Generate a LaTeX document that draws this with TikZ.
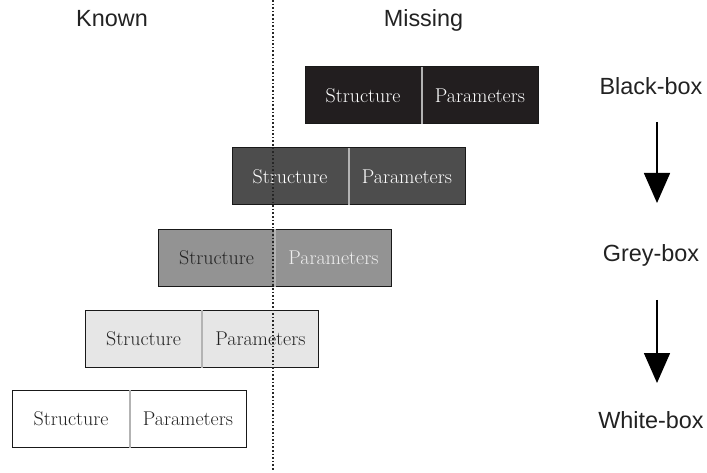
\documentclass[tikz,border=0pt]{standalone}
\usepackage{fontspec}
\newfontfamily\labelfont{Liberation Sans}
\usetikzlibrary{arrows.meta}

\definecolor{boxblack}{HTML}{221E1F}
\definecolor{boxdark}{HTML}{4D4D4D}
\definecolor{boxmid}{HTML}{939393}
\definecolor{boxlight}{HTML}{E6E6E6}
\definecolor{divgrey}{HTML}{B3B3B3}
\definecolor{inkdark}{HTML}{222222}
\definecolor{inklight}{HTML}{EEEEEE}

\tikzset{
  outerbox/.style={draw=black!90, line width=1bp, minimum width=233bp, minimum height=57bp, inner sep=0pt},
  half/.style={minimum width=116.5bp, minimum height=57bp, inner sep=0pt,
    font=\fontsize{20}{24}\selectfont},
  divider/.style={divgrey, line width=2bp},
  sidelabel/.style={font=\labelfont\fontsize{23.5}{27}\selectfont, text=inkdark, anchor=base, inner sep=0pt},
  stagearrow/.style={line width=1.6bp, -{Triangle[length=30bp, width=26bp]}},
  splitline/.style={line width=2bp, dash pattern=on 1.6bp off 2bp, black!85}
}

\begin{document}
\begin{tikzpicture}[x=1bp, y=-1bp]
  \useasboundingbox (0,0) rectangle (707,473);

  % known / missing boundary
  \coordinate (top) at (273,0);
  \coordinate (bot) at (273,471);

  % column headings
  \node[sidelabel] (known) at (112,27) {Known};
  \node[sidelabel] (missing) at (423.5,27) {Missing};

  % black box
  \node[outerbox, fill=boxblack] (b1) at (421.5,95.5) {};
  \node[half, anchor=east, text=white] (s1) at (b1.center) {Structure};
  \node[half, anchor=west, text=white] (p1) at (b1.center) {Parameters};
  \draw[divider] (s1.north east) -- (s1.south east);

  % dark grey box
  \node[outerbox, fill=boxdark] (b2) at (348.5,176.5) {};
  \node[half, anchor=east, text=white] (s2) at (b2.center) {Structure};
  \node[half, anchor=west, text=white] (p2) at (b2.center) {Parameters};
  \draw[divider] (s2.north east) -- (s2.south east);

  % grey box
  \node[outerbox, fill=boxmid] (b3) at (275,258) {};
  \node[half, anchor=east, text=inkdark] (s3) at (b3.center) {Structure};
  \node[half, anchor=west, text=inklight] (p3) at (b3.center) {Parameters};
  \draw[divider] (s3.north east) -- (s3.south east);

  % light grey box
  \node[outerbox, fill=boxlight] (b4) at (202,339) {};
  \node[half, anchor=east, text=inkdark] (s4) at (b4.center) {Structure};
  \node[half, anchor=west, text=inkdark] (p4) at (b4.center) {Parameters};
  \draw[divider] (s4.north east) -- (s4.south east);

  % white box
  \node[outerbox, fill=white] (b5) at (129.5,419) {};
  \node[half, anchor=east, text=inkdark] (s5) at (b5.center) {Structure};
  \node[half, anchor=west, text=inkdark] (p5) at (b5.center) {Parameters};
  \draw[divider] (s5.north east) -- (s5.south east);

  % dotted boundary, on top of the boxes it crosses
  \draw[splitline] (top) -- (bot);

  % stage labels and arrows
  \node[sidelabel] (black) at (651,95) {Black-box};
  \node[sidelabel] (grey) at (651,262) {Grey-box};
  \node[sidelabel] (white) at (651,428) {White-box};
  \coordinate (a1s) at (657,122);
  \coordinate (a1e) at (657,203);
  \coordinate (a2s) at (657,300);
  \coordinate (a2e) at (657,383);
  \draw[stagearrow] (a1s) -- (a1e);
  \draw[stagearrow] (a2s) -- (a2e);
\end{tikzpicture}
\end{document}
